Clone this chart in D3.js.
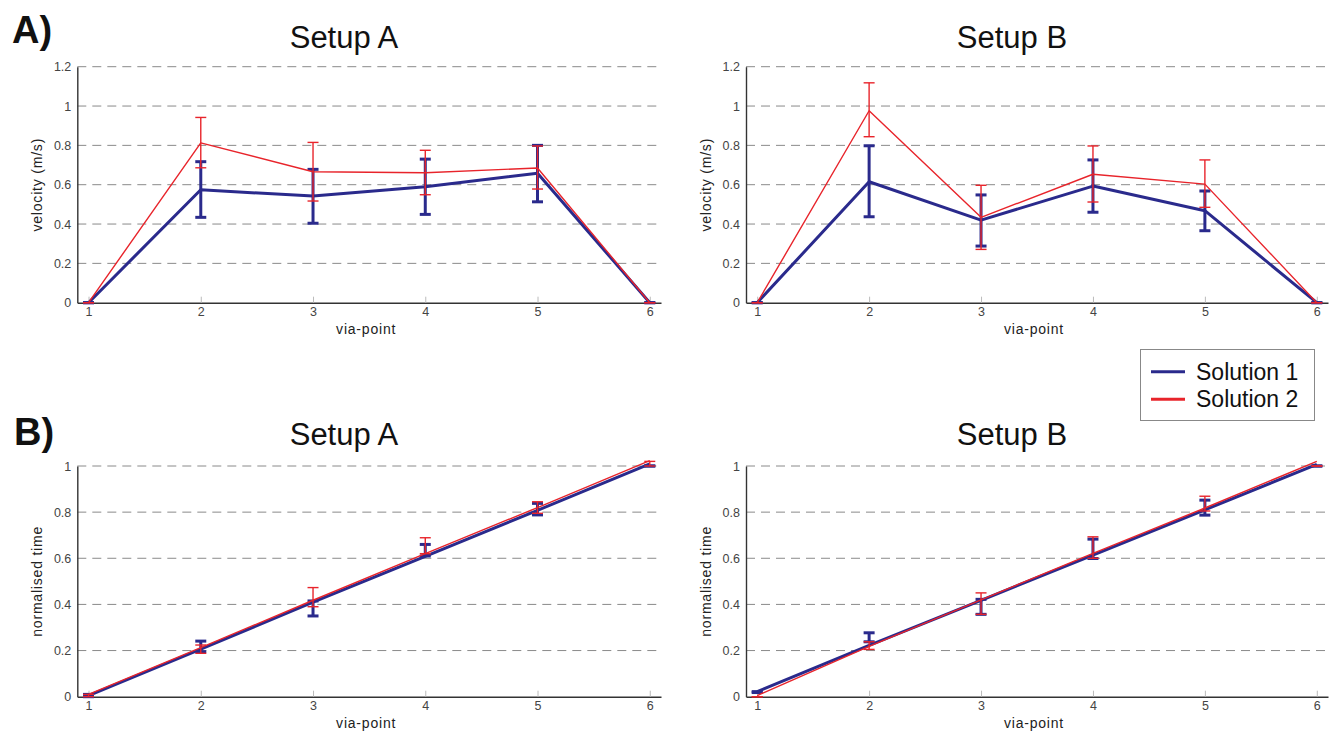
<!DOCTYPE html>
<html>
<head>
<meta charset="utf-8">
<script src="https://cdn.jsdelivr.net/npm/d3@7"></script>
<style>
  html, body { margin: 0; padding: 0; background: #fff; }
  svg { display: block; font-family: "Liberation Sans", Arial, Helvetica, sans-serif; }
</style>
</head>
<body>
<svg id="chart" width="1334" height="735"></svg>
<script>
// ---------- DATA ----------
const viaPoints = [1, 2, 3, 4, 5, 6];
const seriesNames = ["Solution 1", "Solution 2"];
const velocityTicks = [0, 0.2, 0.4, 0.6, 0.8, 1, 1.2];
const timeTicks = [0, 0.2, 0.4, 0.6, 0.8, 1];

// Setup A velocity
const velA_sol1 = [0, 0.574, 0.542, 0.590, 0.658, 0];
const velA_sol1_lo = [0, 0.434, 0.404, 0.449, 0.513, 0];
const velA_sol1_hi = [0, 0.717, 0.678, 0.730, 0.800, 0];
const velA_sol2 = [0, 0.813, 0.666, 0.661, 0.685, 0];
const velA_sol2_lo = [0, 0.686, 0.517, 0.549, 0.578, 0];
const velA_sol2_hi = [0, 0.942, 0.815, 0.775, 0.797, 0];

// Setup B velocity
const velB_sol1 = [0, 0.615, 0.420, 0.593, 0.468, 0];
const velB_sol1_lo = [0, 0.437, 0.288, 0.460, 0.366, 0];
const velB_sol1_hi = [0, 0.798, 0.548, 0.726, 0.568, 0];
const velB_sol2 = [0, 0.976, 0.434, 0.653, 0.603, 0];
const velB_sol2_lo = [0, 0.844, 0.271, 0.512, 0.485, 0];
const velB_sol2_hi = [0, 1.118, 0.597, 0.797, 0.726, 0];

// Setup A normalised time
const timeA_sol1 = [0.005, 0.206, 0.410, 0.608, 0.808, 1.009];
const timeA_sol1_lo = [0, 0.195, 0.350, 0.610, 0.788, 1.0];
const timeA_sol1_hi = [0.01, 0.241, 0.415, 0.660, 0.838, 1.0];
const timeA_sol2 = [0.010, 0.213, 0.418, 0.620, 0.820, 1.023];
const timeA_sol2_lo = [0, 0.188, 0.390, 0.620, 0.795, 1.0];
const timeA_sol2_hi = [0.01, 0.224, 0.473, 0.689, 0.845, 1.02];

// Setup B normalised time
const timeB_sol1 = [0.022, 0.222, 0.418, 0.614, 0.810, 1.007];
const timeB_sol1_lo = [0.018, 0.238, 0.357, 0.599, 0.787, 1.0];
const timeB_sol1_hi = [0.022, 0.277, 0.422, 0.683, 0.852, 1.0];
const timeB_sol2 = [0.005, 0.218, 0.420, 0.621, 0.818, 1.020];
const timeB_sol2_lo = [0, 0.205, 0.357, 0.600, 0.805, 1.0];
const timeB_sol2_hi = [0, 0.238, 0.450, 0.693, 0.869, 1.0];

// ---------- STYLE ----------
const COLORS = ["#2a2a8c", "#e8242b"];
const WIDTHS = [3, 1.4];
const ERRW = [3, 1.4];

const svg = d3.select("#chart");

const panels = [
  { title: "Setup A", ylabel: "velocity (m/s)", ticks: velocityTicks, ymax: 1.2,
    x0: 77.3, x1: 661, y0: 302.7, y1: 66.7, titleX: 344, titleY: 48,
    series: [[velA_sol1, velA_sol1_lo, velA_sol1_hi], [velA_sol2, velA_sol2_lo, velA_sol2_hi]] },
  { title: "Setup B", ylabel: "velocity (m/s)", ticks: velocityTicks, ymax: 1.2,
    x0: 746, x1: 1328, y0: 302.7, y1: 66.7, titleX: 1012, titleY: 48,
    series: [[velB_sol1, velB_sol1_lo, velB_sol1_hi], [velB_sol2, velB_sol2_lo, velB_sol2_hi]] },
  { title: "Setup A", ylabel: "normalised time", ticks: timeTicks, ymax: 1,
    x0: 77.3, x1: 661, y0: 696.7, y1: 466, titleX: 344, titleY: 445,
    series: [[timeA_sol1, timeA_sol1_lo, timeA_sol1_hi], [timeA_sol2, timeA_sol2_lo, timeA_sol2_hi]] },
  { title: "Setup B", ylabel: "normalised time", ticks: timeTicks, ymax: 1,
    x0: 746, x1: 1328, y0: 696.7, y1: 466, titleX: 1012, titleY: 445,
    series: [[timeB_sol1, timeB_sol1_lo, timeB_sol1_hi], [timeB_sol2, timeB_sol2_lo, timeB_sol2_hi]] }
];

panels.forEach(p => {
  const x = d3.scaleLinear().domain([0.9, 6.1]).range([p.x0, p.x1]);
  const y = d3.scaleLinear().domain([0, p.ymax]).range([p.y0, p.y1]);
  const g = svg.append("g");

  // grid lines
  g.append("g").selectAll("line")
    .data(p.ticks.filter(t => t > 0))
    .join("line")
    .attr("x1", p.x0).attr("x2", p.x1)
    .attr("y1", d => y(d)).attr("y2", d => y(d))
    .attr("stroke", "#8a8a8a").attr("stroke-width", 1)
    .attr("stroke-dasharray", "9,6");

  // y axis
  const yAxis = d3.axisLeft(y).tickValues(p.ticks).tickSize(0).tickPadding(6)
    .tickFormat(d => String(+d.toFixed(1)));
  const ya = g.append("g").attr("transform", `translate(${p.x0},0)`).call(yAxis);
  ya.select(".domain").attr("stroke", "#333").attr("stroke-width", 1.4);
  ya.selectAll("text").attr("fill", "#444").style("font-size", "12.5px");

  // x axis
  const xAxis = d3.axisBottom(x).tickValues(viaPoints).tickSizeInner(-6).tickSizeOuter(0)
    .tickPadding(4).tickFormat(d3.format("d"));
  const xa = g.append("g").attr("transform", `translate(0,${p.y0})`).call(xAxis);
  xa.select(".domain").attr("stroke", "#333").attr("stroke-width", 1.4);
  xa.selectAll(".tick line").attr("stroke", "#bbb");
  xa.selectAll("text").attr("fill", "#444").style("font-size", "12.5px");

  // labels
  g.append("text")
    .attr("transform", `translate(${p.x0 - 40},${(p.y0 + p.y1) / 2}) rotate(-90)`)
    .attr("text-anchor", "middle")
    .attr("dy", "0.35em")
    .attr("fill", "#222")
    .style("font-size", "14px").style("letter-spacing", "0.8px")
    .text(p.ylabel);
  g.append("text")
    .attr("x", (p.x0 + p.x1) / 2 - 3).attr("y", p.y0 + 31)
    .attr("text-anchor", "middle")
    .attr("fill", "#222")
    .style("font-size", "14px").style("letter-spacing", "0.8px")
    .text("via-point");
  g.append("text")
    .attr("x", p.titleX).attr("y", p.titleY)
    .attr("text-anchor", "middle")
    .attr("fill", "#111")
    .style("font-size", "31px")
    .text(p.title);

  // series
  const line = d3.line().x((d, i) => x(viaPoints[i])).y(d => y(d));
  p.series.forEach((s, si) => {
    const [vals, lo, hi] = s;
    const sg = g.append("g");
    const capW = 5.5;
    const eb = sg.selectAll("g.eb").data(viaPoints).join("g").attr("class", "eb");
    eb.append("line")
      .attr("x1", d => x(d)).attr("x2", d => x(d))
      .attr("y1", (d, i) => y(lo[i])).attr("y2", (d, i) => y(hi[i]))
      .attr("stroke", COLORS[si]).attr("stroke-width", ERRW[si]);
    eb.append("line")
      .attr("x1", d => x(d) - capW).attr("x2", d => x(d) + capW)
      .attr("y1", (d, i) => y(lo[i])).attr("y2", (d, i) => y(lo[i]))
      .attr("stroke", COLORS[si]).attr("stroke-width", ERRW[si]);
    eb.append("line")
      .attr("x1", d => x(d) - capW).attr("x2", d => x(d) + capW)
      .attr("y1", (d, i) => y(hi[i])).attr("y2", (d, i) => y(hi[i]))
      .attr("stroke", COLORS[si]).attr("stroke-width", ERRW[si]);
    sg.append("path")
      .datum(vals)
      .attr("d", line)
      .attr("fill", "none")
      .attr("stroke", COLORS[si])
      .attr("stroke-width", WIDTHS[si])
      .attr("stroke-linejoin", "round");
  });
});

// panel letters
svg.append("text").attr("x", 12).attr("y", 43)
  .style("font-size", "38px").style("font-weight", "bold").attr("fill", "#111").text("A)");
svg.append("text").attr("x", 14).attr("y", 445)
  .style("font-size", "38px").style("font-weight", "bold").attr("fill", "#111").text("B)");

// legend
const lg = svg.append("g");
lg.append("rect").attr("x", 1140.5).attr("y", 349.5).attr("width", 174).attr("height", 71)
  .attr("fill", "#fff").attr("stroke", "#888").attr("stroke-width", 1);
seriesNames.forEach((n, i) => {
  const yy = 371.7 + i * 27.6;
  lg.append("line").attr("x1", 1151).attr("x2", 1185).attr("y1", yy).attr("y2", yy)
    .attr("stroke", COLORS[i]).attr("stroke-width", 3);
  lg.append("text").attr("x", 1196).attr("y", yy + 8)
    .style("font-size", "23px").attr("fill", "#111").text(n);
});
</script>
</body>
</html>
